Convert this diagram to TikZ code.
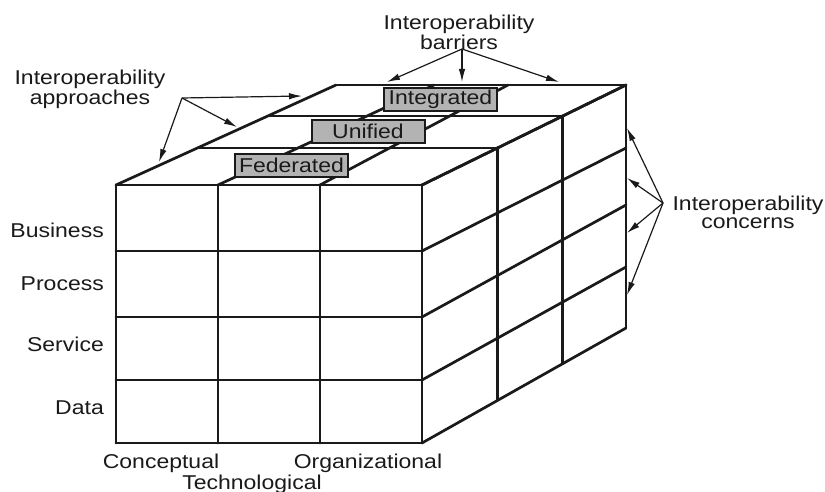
\documentclass[tikz,border=0pt]{standalone}
\usepackage{fontspec}
\setmainfont{Liberation Sans}[FakeStretch=1.15]
\usetikzlibrary{arrows.meta}
\definecolor{ink}{HTML}{1A1A1A}
\definecolor{boxgray}{HTML}{B3B3B3}
\begin{document}
\begin{tikzpicture}[x=1pt,y=-1pt,
  cube/.style={draw=ink,line width=2.7pt,line cap=round,line join=round},
  ptr/.style={draw=ink,line width=1.2pt,-{Latex[length=13pt,width=6.5pt]}},
  lbl/.style={font=\fontsize{20}{18}\selectfont,text=ink,inner sep=0pt,align=center},
  tag/.style={draw=ink,line width=2pt,fill=boxgray,minimum width=113pt,minimum height=23pt,inner sep=0pt,font=\fontsize{20}{20}\selectfont,text=ink}]
\path[use as bounding box] (0,0) rectangle (825,492);
\fill[white] (0,0) rectangle (825,492);

% cube lattice points (i = column, j = row, k = depth)
\foreach \i/\fx/\bx in {0/116/336,1/218/434,2/320/508,3/422/626}{
 \foreach \j/\fy/\by in {0/185/85,1/251/148,2/317/205,3/380/267,4/443/328}{
  \foreach \k/\t in {0/0,1/0.37,2/0.69,3/1}{
   \coordinate (p\i\j\k) at ({\fx+\t*(\bx-\fx)},{\fy+\t*(\by-\fy)});
}}}

% front face
\foreach \j in {0,...,4} \draw[cube] (p0\j0) -- (p3\j0);
\foreach \i in {0,...,3} \draw[cube] (p\i00) -- (p\i40);
% top face
\foreach \i in {0,...,3} \draw[cube] (p\i00) -- (p\i03);
\foreach \k in {1,2,3} \draw[cube] (p00\k) -- (p30\k);
% right face
\foreach \j in {0,...,4} \draw[cube] (p3\j0) -- (p3\j3);
\foreach \k in {1,2,3} \draw[cube] (p30\k) -- (p34\k);

% approach tags
\node[tag] (fed) at (291.5,165.5) {Federated};
\node[tag] (uni) at (368,131.5) {Unified};
\node[tag] (int) at (440.5,99.5) {Integrated};

% row labels
\node[lbl,anchor=base east] (business) at (104,237) {Business};
\node[lbl,anchor=base east] (process) at (104,290) {Process};
\node[lbl,anchor=base east] (service) at (104,351) {Service};
\node[lbl,anchor=base east] (data) at (104,414) {Data};

% column labels
\node[lbl,anchor=base] (conc) at (161,468) {Conceptual};
\node[lbl,anchor=base] (org) at (368,468) {Organizational};
\node[lbl,anchor=base] (tech) at (252,489) {Technological};

% callout labels
\node[lbl,anchor=north] (barriers) at (459,15) {Interoperability\\barriers};
\node[lbl,anchor=north] (approaches) at (90,70) {Interoperability\\approaches};
\node[lbl,anchor=north] (concerns) at (748,196) {Interoperability\\concerns};

% arrow origins and tips
\coordinate (barO) at (462,49);
\coordinate (barA) at (387,82);
\coordinate (barB) at (462,82);
\coordinate (barC) at (559,82);
\coordinate (aprO) at (182,98);
\coordinate (aprA) at (302,96);
\coordinate (aprB) at (237,127);
\coordinate (aprC) at (159,162);
\coordinate (conO) at (663,203);
\coordinate (conA) at (627,128);
\coordinate (conB) at (627,178);
\coordinate (conC) at (627,233);
\coordinate (conD) at (627,295);

\foreach \t in {barA,barB,barC} \draw[ptr] (barO) -- (\t);
\foreach \t in {aprA,aprB,aprC} \draw[ptr] (aprO) -- (\t);
\foreach \t in {conA,conB,conC,conD} \draw[ptr] (conO) -- (\t);
\end{tikzpicture}
\end{document}
